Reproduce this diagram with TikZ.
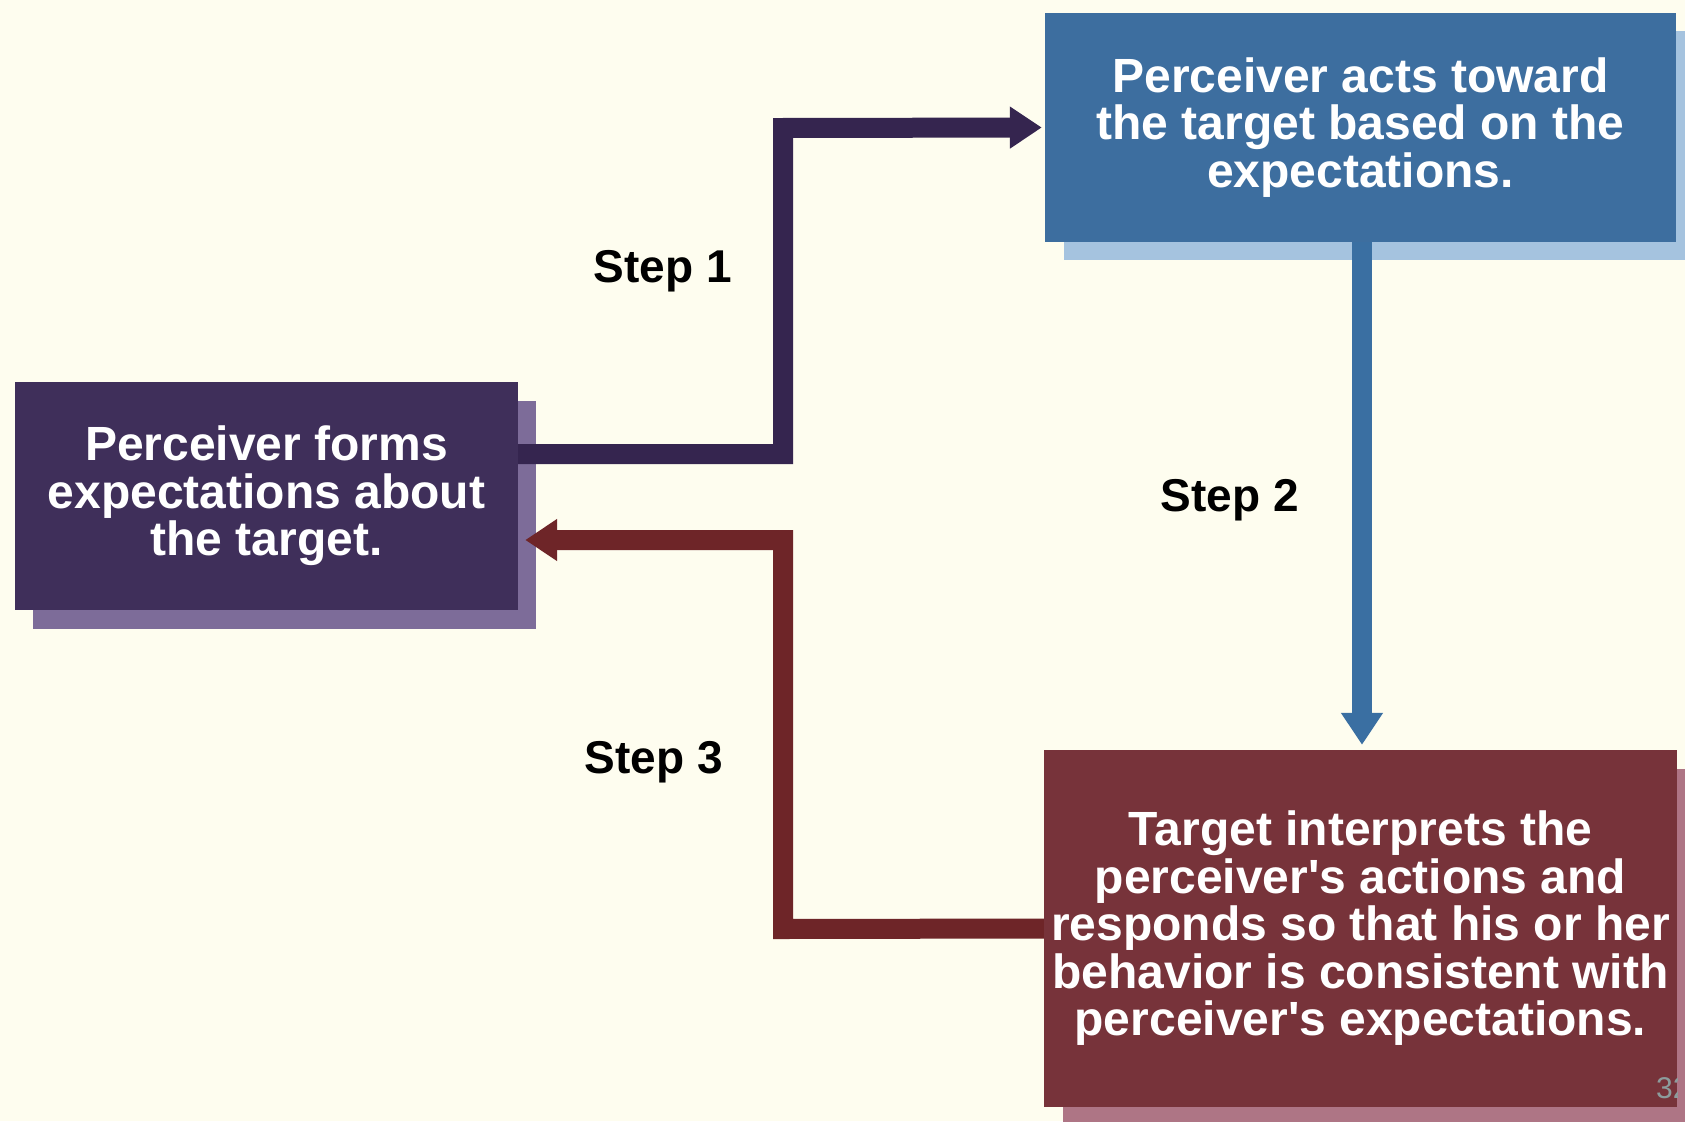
\documentclass[tikz,border=0pt]{standalone}
\usepackage{fontspec}
\setmainfont{Liberation Sans}
\usetikzlibrary{arrows.meta,shadows}
\definecolor{bgc}{HTML}{FEFDEF}
\definecolor{purbox}{HTML}{3F2F5A}
\definecolor{purshadow}{HTML}{7D6C99}
\definecolor{purarrow}{HTML}{35254F}
\definecolor{bluebox}{HTML}{3D6E9F}
\definecolor{blueshadow}{HTML}{A5C3DF}
\definecolor{bluearrow}{HTML}{3A6FA2}
\definecolor{redbox}{HTML}{77333A}
\definecolor{redshadow}{HTML}{AE7585}
\definecolor{redarrow}{HTML}{6E2528}
\definecolor{pagenum}{HTML}{8C9C9C}
\begin{document}
\begin{tikzpicture}[x=1pt,y=-1pt,
  boxtext/.style={text=white,font=\fontsize{48}{47.5}\selectfont\bfseries,align=center,inner sep=0pt},
  purplebox/.style={boxtext,fill=purbox,minimum width=503pt,minimum height=228pt,
    drop shadow={shadow xshift=18pt,shadow yshift=-19pt,fill=purshadow,opacity=1}},
  bluebx/.style={boxtext,fill=bluebox,minimum width=631pt,minimum height=229pt,
    drop shadow={shadow xshift=19pt,shadow yshift=-18pt,fill=blueshadow,opacity=1}},
  redbx/.style={boxtext,fill=redbox,minimum width=633pt,minimum height=357pt,
    drop shadow={shadow xshift=19pt,shadow yshift=-19pt,fill=redshadow,opacity=1}},
  flow/.style={line width=20pt,line join=miter,line cap=butt,
    -{Triangle[width=40pt,length=32pt]}},
  steplabel/.style={font=\fontsize{46}{46}\selectfont\bfseries,text=black,anchor=base,inner sep=0pt}
]
\useasboundingbox[fill=bgc] (0,0) rectangle (1685,1121);

\node[purplebox] (perc) at (266.5,496) {Perceiver forms\\expectations about\\the target.};
\node[bluebx] (act) at (1360.5,127.5) {Perceiver acts toward\\the target based on the\\expectations.};
\node[redbx] (targ) at (1360.5,928.5) {Target interprets the\\perceiver\textquotesingle s actions and\\responds so that his or her\\behavior is consistent with\\perceiver\textquotesingle s expectations.};

\begin{scope}
\clip (targ.south west) rectangle (targ.north east);
\node[font=\fontsize{30}{30}\selectfont,text=pagenum,anchor=base west,inner sep=0pt] (pnum) at (1656,1098) {32};
\end{scope}

\coordinate (c1a) at (783,454);
\coordinate (c1b) at (783,128);
\draw[flow,draw=purarrow] ([yshift=42pt]perc.east) -- (c1a) -- (c1b) -- ([xshift=-3pt]act.west);

\draw[flow,draw=bluearrow] ([xshift=1.5pt]act.south) -- ([xshift=1.5pt,yshift=5pt]targ.north);

\coordinate (c3a) at (783,929);
\coordinate (c3b) at (783,540);
\draw[flow,draw=redarrow] (targ.west) -- (c3a) -- (c3b) -- ([xshift=7pt,yshift=-44pt]perc.east);

\node[steplabel] (s1) at (663,282) {Step 1};
\node[steplabel] (s2) at (1230,511) {Step 2};
\node[steplabel] (s3) at (654,773) {Step 3};
\end{tikzpicture}
\end{document}
